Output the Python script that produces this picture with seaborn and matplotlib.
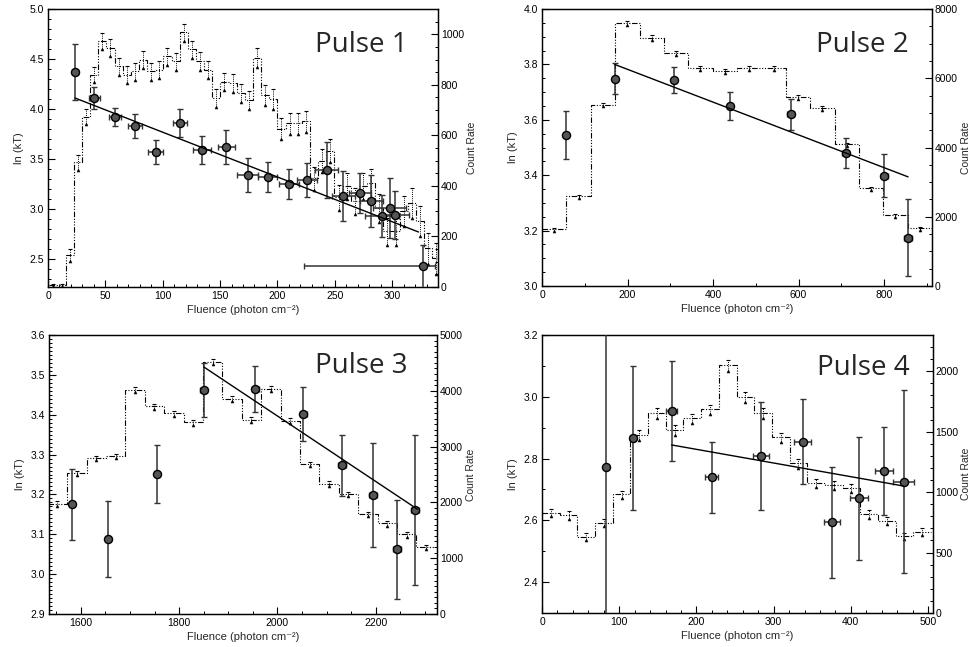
import numpy as np
import matplotlib
matplotlib.use("Agg")
import matplotlib.pyplot as plt
import seaborn as sns
from matplotlib.ticker import MultipleLocator

# --- Data ---
# Pulse 1: ln(kT) points with error bars
p1_x = [23.5, 40.5, 58.5, 75.8, 93.8, 115, 134.4, 155.6, 174, 191.4,
        210.2, 225.6, 242.8, 257.3, 271.8, 282, 291.2, 297.9, 302.9, 327]
p1_y = [4.37, 4.11, 3.92, 3.83, 3.57, 3.86, 3.59, 3.62, 3.34, 3.32,
        3.25, 3.29, 3.39, 3.13, 3.16, 3.08, 2.93, 3.01, 2.94, 2.43]
p1_xerr_lo = [3, 4.6, 5, 5.8, 6.2, 6, 7.7, 7.3, 9.3, 8.6,
              8.7, 8.7, 10, 10, 9.5, 10, 15, 14.5, 12, 104]
p1_xerr_hi = [3, 4.6, 5, 5.8, 6.2, 6, 7.7, 7.3, 9.3, 8.6,
              8.7, 8.7, 10, 10, 9.5, 10, 15, 14.5, 12, 10]
p1_yerr_lo = [0.28, 0.11, 0.09, 0.12, 0.12, 0.14, 0.14, 0.17, 0.17, 0.15,
              0.15, 0.17, 0.28, 0.25, 0.2, 0.26, 0.21, 0.3, 0.24, 0.4]
p1_yerr_hi = [0.28, 0.11, 0.09, 0.12, 0.12, 0.14, 0.14, 0.17, 0.17, 0.15,
              0.15, 0.17, 0.28, 0.25, 0.2, 0.26, 0.21, 0.3, 0.24, 0.21]
p1_fit_x = [23.5, 323]
p1_fit_y = [4.11, 2.77]
# Pulse 1: count-rate histogram (bin start, bin width, counts, errors)
p1_bin_start = 1.2
p1_bin_width = 7.1
p1_counts = [8, 8, 127, 493, 673, 840, 973, 947, 873, 840, 853, 900, 853, 860,
             913, 893, 1007, 940, 893, 860, 747, 813, 807, 767, 740, 907, 760,
             743, 627, 647, 647, 655, 430, 500, 540, 355, 400, 340, 400, 413,
             313, 220, 220, 300, 333, 260, 153, 113]
p1_cerr = [5, 5, 25, 30, 30, 30, 33, 33, 33, 33, 33, 33, 33, 33,
           33, 33, 33, 33, 35, 35, 35, 35, 35, 35, 35, 38, 38,
           40, 40, 40, 40, 40, 45, 45, 45, 50, 50, 50, 50, 55,
           55, 55, 55, 60, 60, 60, 60, 60]

# Pulse 2
p2_x = [55.4, 170, 308, 440.5, 581.7, 710, 800, 856]
p2_y = [3.545, 3.749, 3.743, 3.649, 3.62, 3.48, 3.398, 3.175]
p2_xerr = [0, 2, 3, 4, 8, 8, 8, 9]
p2_yerr = [0.087, 0.055, 0.046, 0.05, 0.055, 0.054, 0.078, 0.139]
p2_fit_x = [170, 856]
p2_fit_y = [3.80, 3.394]
p2_bin_start = 0
p2_bin_width = 57
p2_counts = [1632, 2592, 5240, 7608, 7178, 6727, 6287, 6218,
             6287, 6287, 5454, 5141, 4093, 2820, 2038, 1665]
p2_cerr = [40, 45, 55, 60, 60, 60, 55, 55, 55, 55, 55, 50, 50, 45, 40, 40]

# Pulse 3
p3_x = [1581, 1655, 1755, 1850, 1955, 2053, 2132, 2194, 2243, 2280]
p3_y = [3.175, 3.088, 3.251, 3.4625, 3.465, 3.402, 3.273, 3.199, 3.062, 3.161]
p3_xerr = [0, 0, 0, 7, 7, 7, 8, 8, 8, 8]
p3_yerr = [0.09, 0.095, 0.073, 0.067, 0.058, 0.068, 0.076, 0.131, 0.125, 0.188]
p3_fit_x = [1850, 2285]
p3_fit_y = [3.52, 3.163]
p3_bin_start = 1532.5
p3_bin_width = 39.5
p3_counts = [1979, 2529, 2800, 2829, 4018, 3721, 3601, 3440, 4524, 3857,
             3479, 4036, 3464, 2693, 2335, 2150, 1793, 1622, 1429, 1200]
p3_cerr = [40, 40, 40, 40, 45, 45, 45, 45, 50, 45,
           45, 45, 45, 40, 40, 40, 40, 40, 40, 40]

# Pulse 4
p4_x = [82.6, 117.2, 167.7, 219.6, 283.6, 337.7, 375.3, 410.3, 443.1, 468.2]
p4_y = [2.774, 2.865, 2.954, 2.739, 2.808, 2.855, 2.594, 2.671, 2.76, 2.725]
p4_xerr = [0, 3, 7.6, 8, 10, 11, 10, 12, 12, 13]
p4_yerr = [0.6, 0.233, 0.163, 0.116, 0.175, 0.138, 0.18, 0.198, 0.143, 0.297]
p4_fit_x = [167.7, 468.2]
p4_fit_y = [2.844, 2.711]
p4_bin_start = 0
p4_bin_width = 22.9
p4_counts = [831, 810, 631, 746, 981, 1472, 1656, 1513, 1610, 1684, 2050,
             1784, 1656, 1452, 1237, 1073, 1058, 1032, 818, 762, 636, 672]
p4_cerr = [30, 30, 28, 30, 32, 38, 40, 38, 40, 40, 45,
           42, 40, 38, 35, 33, 33, 33, 30, 30, 28, 28]

# --- Style ---
sns.set_style("ticks")
plt.rcParams["font.family"] = ["Liberation Sans", "DejaVu Sans"]
plt.rcParams["axes.linewidth"] = 0.9

fig = plt.figure(figsize=(9.74, 6.47), dpi=100)

STEP_LS = (0, (5, 1.5, 1, 1.5, 1, 1.5, 1, 1.5))


def draw_panel(rect, title, title_pos, x, y, xerr, yerr, fit_x, fit_y,
               bin_start, bin_width, counts, cerr, xlim, ylim, clim,
               xticks, yticks, cticks):
    ax = fig.add_axes(rect)
    ax2 = ax.twinx()
    ax.set_zorder(ax2.get_zorder() + 1)
    ax.patch.set_visible(False)

    # count-rate histogram on the right axis
    counts = np.asarray(counts, float)
    cerr = np.asarray(cerr, float)
    edges = bin_start + bin_width * np.arange(len(counts) + 1)
    centers = edges[:-1] + bin_width / 2
    ax2.stairs(counts, edges, baseline=None, color="black", lw=0.8,
               linestyle=STEP_LS)
    ax2.vlines(centers, counts - cerr, counts + cerr, colors="black",
               lw=0.7, linestyles=(0, (1, 1.2)))
    ax2.plot(centers, counts + cerr, ls="none", marker="_", ms=3.5,
             mew=0.8, color="black")
    ax2.plot(centers, counts - cerr, ls="none", marker="^", ms=2.2,
             mew=0.3, color="black")

    # ln(kT) points, fit line
    ax.errorbar(x, y, xerr=xerr, yerr=yerr, fmt="none", ecolor="#333333",
                elinewidth=1.1, capsize=2.5, capthick=1.0, zorder=4)
    sns.scatterplot(x=x, y=y, ax=ax, s=34, color="#555555",
                    edgecolor="black", linewidth=1.0, zorder=5)
    sns.lineplot(x=fit_x, y=fit_y, ax=ax, color="black", lw=1.0,
                 estimator=None, sort=False, zorder=6)

    ax.set_xlim(*xlim)
    ax.set_ylim(*ylim)
    ax2.set_ylim(*clim)
    ax.xaxis.set_major_locator(MultipleLocator(xticks[0]))
    ax.xaxis.set_minor_locator(MultipleLocator(xticks[1]))
    ax.yaxis.set_major_locator(MultipleLocator(yticks[0]))
    ax.yaxis.set_minor_locator(MultipleLocator(yticks[1]))
    ax2.yaxis.set_major_locator(MultipleLocator(cticks[0]))
    ax2.yaxis.set_minor_locator(MultipleLocator(cticks[1]))
    ax.yaxis.set_major_formatter(matplotlib.ticker.FormatStrFormatter("%.1f"))

    ax.tick_params(which="both", direction="in", top=False, right=False,
                   labelsize=7.5, colors="black", pad=3)
    ax.tick_params(which="major", length=5, width=0.8)
    ax.tick_params(which="minor", length=2.5, width=0.7)
    ax2.tick_params(which="both", direction="in", labelsize=7.5,
                    colors="black", pad=2)
    ax2.tick_params(which="major", length=5, width=0.8)
    ax2.tick_params(which="minor", length=2.5, width=0.7)

    ax.set_xlabel("Fluence (photon cm\u207b\u00b2)", fontsize=8, labelpad=3)
    ax.set_ylabel("ln (kT)", fontsize=8, labelpad=4)
    ax2.set_ylabel("Count Rate", fontsize=7.5, labelpad=2)
    for a in (ax, ax2):
        for sp in a.spines.values():
            sp.set_visible(True)
            sp.set_color("black")
            sp.set_linewidth(0.9)

    ax.text(title_pos[0], title_pos[1], title, transform=ax.transAxes,
            ha="right", va="baseline", fontsize=20,
            family=["Open Sans", "DejaVu Sans"], zorder=10)
    return ax, ax2


draw_panel([0.0493, 0.5564, 0.4004, 0.4297], "Pulse 1", (0.923, 0.845),
           p1_x, p1_y, [p1_xerr_lo, p1_xerr_hi], [p1_yerr_lo, p1_yerr_hi],
           p1_fit_x, p1_fit_y, p1_bin_start, p1_bin_width, p1_counts, p1_cerr,
           (0, 340), (2.22, 5.0), (0, 1100), (50, 10), (0.5, 0.1), (200, 50))

draw_panel([0.5565, 0.558, 0.4004, 0.428], "Pulse 2", (0.94, 0.846),
           p2_x, p2_y, p2_xerr, p2_yerr,
           p2_fit_x, p2_fit_y, p2_bin_start, p2_bin_width, p2_counts, p2_cerr,
           (0, 912), (3.0, 4.0), (0, 8000), (200, 100), (0.2, 0.05), (2000, 500))

draw_panel([0.0503, 0.051, 0.3984, 0.4312], "Pulse 3", (0.925, 0.864),
           p3_x, p3_y, p3_xerr, p3_yerr,
           p3_fit_x, p3_fit_y, p3_bin_start, p3_bin_width, p3_counts, p3_cerr,
           (1535, 2325), (2.9, 3.6), (0, 5000), (200, 50), (0.1, 0.01), (1000, 100))

draw_panel([0.5565, 0.0526, 0.4011, 0.4297], "Pulse 4", (0.94, 0.856),
           p4_x, p4_y, p4_xerr, p4_yerr,
           p4_fit_x, p4_fit_y, p4_bin_start, p4_bin_width, p4_counts, p4_cerr,
           (0, 506), (2.3, 3.2), (0, 2300), (100, 20), (0.2, 0.1), (500, 100))

fig.savefig("out.png", dpi=100)
